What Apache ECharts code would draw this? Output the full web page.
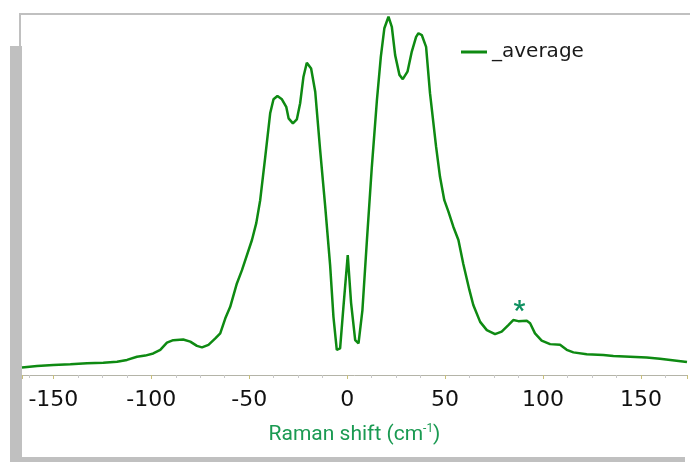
<!DOCTYPE html>
<html><head><meta charset="utf-8">
<script src="https://cdn.jsdelivr.net/npm/echarts@6/dist/echarts.min.js"></script>
<style>html,body{margin:0;padding:0;background:#fff}#c{width:690px;height:462px}</style>
</head><body><div id="c"></div>
<script>
var ramanShift = [-166.0,-158.3,-150.0,-141.3,-132.8,-124.5,-117.5,-112.4,-107.3,-103.1,-99.0,-95.4,-92.0,-88.8,-83.7,-80.1,-76.7,-74.1,-70.8,-67.3,-64.8,-62.2,-59.7,-56.3,-53.7,-48.6,-46.4,-44.4,-41.8,-39.3,-37.6,-35.6,-33.3,-31.1,-29.9,-27.7,-25.7,-24.0,-22.3,-20.6,-18.4,-16.3,-13.8,-11.2,-8.7,-7.0,-5.3,-3.6,-1.9,0.3,2.0,4.1,5.8,7.8,10.1,12.6,15.2,17.2,19.0,21.1,22.8,24.5,26.7,28.4,30.8,33.0,35.2,36.4,38.1,40.3,42.3,45.4,47.4,49.6,51.7,54.2,56.8,59.3,62.4,64.4,67.9,71.3,75.5,78.9,82.3,84.8,87.4,91.7,93.4,95.9,99.3,103.6,108.7,112.1,115.5,122.3,130.8,135.9,144.4,152.9,159.7,172.4,173.5];
var intensity = [2.1,2.5,2.8,3.0,3.3,3.4,3.7,4.2,5.1,5.4,6.0,7.0,9.0,9.7,9.9,9.3,8.1,7.7,8.4,10.2,11.6,15.8,19.0,25.5,29.2,37.6,42.3,48.7,60.8,72.9,76.8,77.7,76.8,74.7,71.5,70.1,71.2,75.7,83.1,87.0,85.4,78.9,62.7,46.9,30.6,16.2,7.0,7.4,19.0,33.4,20.1,9.7,8.8,18.1,37.6,58.0,76.6,88.7,96.6,99.8,97.0,89.1,83.6,82.4,84.5,90.1,94.2,95.2,94.7,91.4,78.5,63.6,55.2,48.7,45.5,41.3,37.6,30.9,23.7,19.5,14.8,12.5,11.4,12.1,13.9,15.3,15.0,15.1,14.4,11.6,9.6,8.6,8.4,7.0,6.3,5.8,5.6,5.3,5.1,4.9,4.5,3.7,3.6];
var seriesName = '_average';
var axisTitle = 'Raman shift (cm{sup|-1})';
var markedPeak = [88, 15.1];

var data = ramanShift.map(function(x, i){ return [x, intensity[i]]; });
var gray = '#c0c0c0';
var chart = echarts.init(document.getElementById('c'), null, {renderer:'canvas'});
chart.setOption({
  animation: false,
  backgroundColor: '#fff',
  graphic: [
    {type:'rect', z:-1, shape:{x:20,y:13,width:670,height:2}, style:{fill:gray}},
    {type:'rect', z:-1, shape:{x:19,y:13,width:2,height:34}, style:{fill:gray}},
    {type:'rect', z:-1, shape:{x:10,y:46,width:12,height:416}, style:{fill:gray}},
    {type:'rect', z:-1, shape:{x:10,y:457,width:675,height:5}, style:{fill:gray}}
  ],
  grid: {left:22, right:3, top:16, bottom:87, containLabel:false},
  legend: {
    left: 461, top: 42, padding: 0, icon: 'rect', itemWidth: 26, itemHeight: 3, itemGap: 8,
    textStyle: {fontFamily:'DejaVu Sans', fontSize:20, color:'#1a1a1a'},
    data: [seriesName]
  },
  xAxis: {
    type: 'value', min: -166, max: 173.5, splitNumber: 6,
    name: axisTitle, nameLocation: 'middle', nameGap: 48,
    nameTextStyle: {fontFamily:'Roboto', fontSize:21, color:'#1a9a52',
      rich: {sup: {fontFamily:'Roboto', fontSize:12, color:'#1a9a52', verticalAlign:'bottom', padding:[0,0,12,0]}}},
    axisLine: {show:true, lineStyle:{color:'#b4b4a8', width:1}},
    axisTick: {show:true, inside:false, length:4, lineStyle:{color:'#c8bf7a'}},
    minorTick: {show:true, splitNumber:4, length:3, lineStyle:{color:'#c8c8c8'}},
    splitLine: {show:false},
    axisLabel: {fontFamily:'DejaVu Sans', fontSize:22, color:'#111', margin:14, showMinLabel:false, showMaxLabel:false}
  },
  yAxis: {type:'value', min:0, max:100, show:false, splitLine:{show:false}},
  series: [{
    name: seriesName, type: 'line', data: data, showSymbol: false, symbol:'none',
    lineStyle: {color:'#0e8a12', width:2.5}, itemStyle:{color:'#0e8a12'},
    markPoint: {
      symbol: 'circle', symbolSize: 0, silent: true,
      data: [{coord: markedPeak, label:{show:true, formatter:'*', position:'inside', offset:[0,-8],
        fontFamily:'Roboto', fontSize:26, fontWeight:'bold', color:'#0e9060'}}]
    }
  }]
});
</script></body></html>
